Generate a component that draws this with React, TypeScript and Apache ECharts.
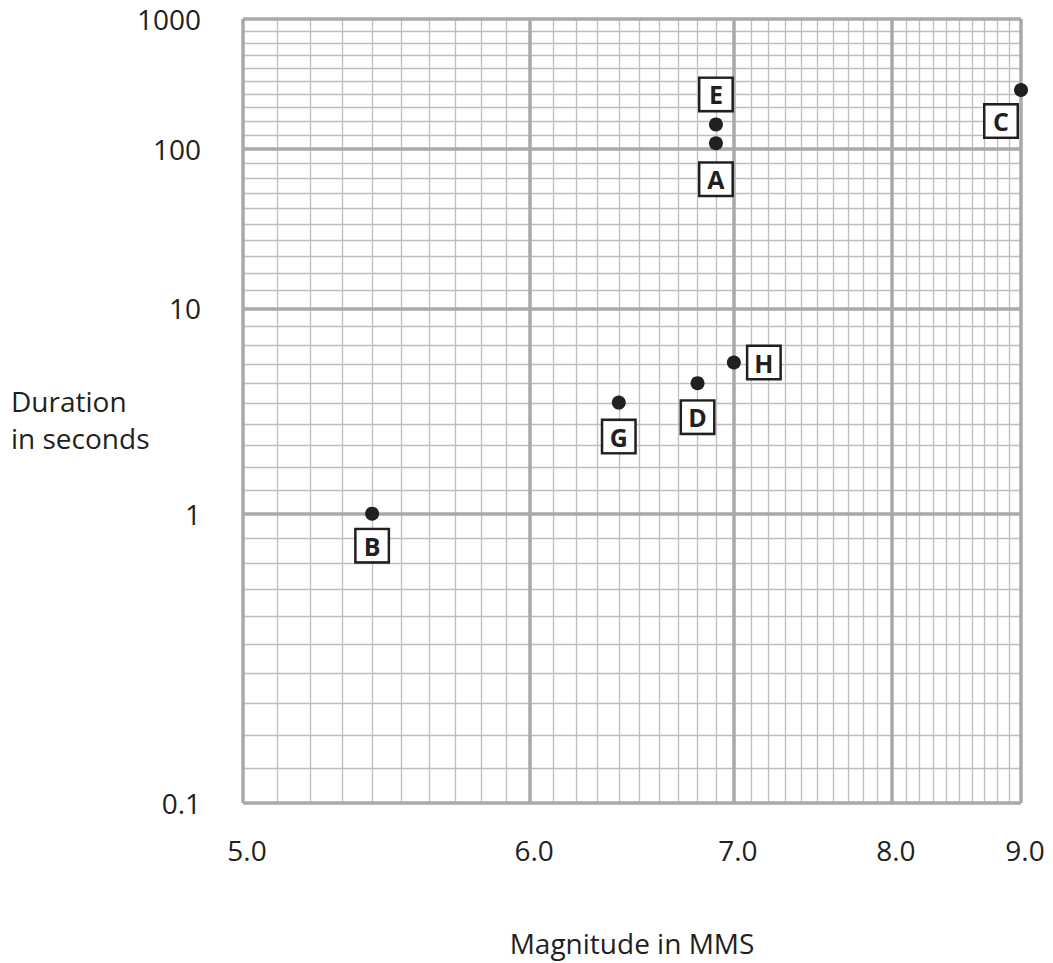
import React, { useEffect, useRef } from "react";
import * as echarts from "echarts";

// ---- data ----
const POINT_LABELS = ["A", "B", "C", "D", "E", "G", "H"];
const MAGNITUDE_MMS = [6.9, 5.4, 9.0, 6.8, 6.9, 6.4, 7.0];
const DURATION_S = [110, 1, 270, 4, 150, 3.2, 5.1];

const X_TICK_LABELS = ["5.0", "6.0", "7.0", "8.0", "9.0"];
const Y_TICK_LABELS = ["0.1", "1", "10", "100", "1000"];

// log-paper cycle (2 … 6) used by both axes; majors carry the labels above
const PAPER_MAJOR = [2, 3, 4, 5, 6];
const PAPER_MINOR: number[] = [];
for (let i = 2; i < 6; i++) for (let j = 1; j <= 9; j++) PAPER_MINOR.push(i + j / 10);

// physical value -> position on the log paper
const toPaperX = (m: number) => m - 3; // 5.0 -> 2 … 9.0 -> 6
const toPaperY = (d: number) => Math.log10(d) + 3; // 0.1 -> 2 … 1000 -> 6

// label box placement relative to its point (style, not data)
const LABEL_OFFSET: Record<string, [number, number]> = {
  A: [0, 36],
  B: [0, 32],
  C: [-20, 31],
  D: [0, 34],
  E: [0, -30],
  G: [0, 34],
  H: [30, 0],
};

const FONT = "'Open Sans', 'Noto Sans', sans-serif";
const INK = "#231f20";
const MAJOR = { color: "#a7a9ac", width: 3.5 };
const MINOR = { color: "#bcbec0", width: 1.3 };

const pick = (labels: string[]) => (v: number) => {
  const idx = PAPER_MAJOR.findIndex((p) => Math.abs(p - v) < 1e-6);
  return idx >= 0 ? labels[idx] : "";
};

export default function App() {
  const ref = useRef<HTMLDivElement>(null);

  useEffect(() => {
    if (!ref.current) return;
    const chart = echarts.init(ref.current, undefined, { renderer: "svg" });

    const hidden = {
      axisLine: { show: false },
      axisLabel: { show: false },
    };

    const data = POINT_LABELS.map((name, i) => ({
      name,
      value: [toPaperX(MAGNITUDE_MMS[i]), toPaperY(DURATION_S[i])],
    }));

    chart.setOption({
      animation: false,
      backgroundColor: "#ffffff",
      grid: {
        left: 243,
        right: 32,
        top: 19,
        bottom: 160,
        containLabel: false,
        outerBoundsMode: "none",
      },
      xAxis: [
        {
          type: "log",
          logBase: 10,
          min: 2,
          max: 6,
          position: "bottom",
          z: 1,
          axisLine: { show: false },
          axisTick: { show: false, customValues: PAPER_MAJOR },
          axisLabel: {
            show: true,
            customValues: PAPER_MAJOR,
            formatter: pick(X_TICK_LABELS),
            margin: 47,
            verticalAlign: "middle",
            color: INK,
            fontFamily: FONT,
            fontSize: 28,
            padding: [0, 0, 0, 8],
          },
          splitLine: { show: true, lineStyle: MAJOR },
          minorTick: { show: false },
          minorSplitLine: { show: false },
          name: "Magnitude in MMS",
          nameLocation: "middle",
          nameGap: 140,
          nameMoveOverlap: false,
          nameTextStyle: {
            color: INK,
            fontFamily: FONT,
            fontSize: 28,
            verticalAlign: "middle",
          },
        },
        {
          type: "log",
          logBase: 10,
          min: 2,
          max: 6,
          position: "top",
          z: 0,
          ...hidden,
          axisTick: { show: false, customValues: PAPER_MINOR },
          splitLine: { show: true, lineStyle: MINOR },
          minorTick: { show: false },
          minorSplitLine: { show: false },
        },
      ],
      yAxis: [
        {
          type: "log",
          logBase: 10,
          min: 2,
          max: 6,
          position: "left",
          z: 1,
          axisLine: { show: false },
          axisTick: { show: false, customValues: PAPER_MAJOR },
          axisLabel: {
            show: true,
            customValues: PAPER_MAJOR,
            formatter: pick(Y_TICK_LABELS),
            margin: 42,
            color: INK,
            fontFamily: FONT,
            fontSize: 28,
            verticalAlign: "middle",
            padding: [16, 0, 0, 0],
          },
          splitLine: { show: true, lineStyle: MAJOR },
          minorTick: { show: false },
          minorSplitLine: { show: false },
          name: "{gap| }\n{t|Duration}\n{t|in seconds}",
          nameLocation: "middle",
          nameRotate: 0,
          nameGap: 232,
          nameMoveOverlap: false,
          nameTextStyle: {
            color: INK,
            fontFamily: FONT,
            fontSize: 28,
            align: "left",
            verticalAlign: "middle",
            rich: {
              gap: { fontSize: 10, lineHeight: 16, fontFamily: FONT },
              t: { color: INK, fontFamily: FONT, fontSize: 28, lineHeight: 37 },
            },
          },
        },
        {
          type: "log",
          logBase: 10,
          min: 2,
          max: 6,
          position: "right",
          z: 0,
          ...hidden,
          axisTick: { show: false, customValues: PAPER_MINOR },
          splitLine: { show: true, lineStyle: MINOR },
          minorTick: { show: false },
          minorSplitLine: { show: false },
        },
      ],
      series: [
        {
          type: "scatter",
          xAxisIndex: 0,
          yAxisIndex: 0,
          z: 5,
          symbol: "circle",
          symbolSize: 14,
          itemStyle: { color: INK, opacity: 1 },
          label: {
            show: true,
            position: "inside",
            formatter: "{b}",
            color: INK,
            opacity: 1,
            fontFamily: FONT,
            fontWeight: "bold",
            fontSize: 25,
            backgroundColor: "#ffffff",
            borderColor: INK,
            borderWidth: 2.5,
            width: 31,
            height: 31,
            lineHeight: 31,
            align: "center",
            verticalAlign: "middle",
            padding: 0,
          },
          labelLayout: (params: any) => {
            const o = LABEL_OFFSET[POINT_LABELS[params.dataIndex]] || [0, 0];
            return { dx: o[0], dy: o[1], hideOverlap: false, moveOverlap: false };
          },
          emphasis: { disabled: true },
          data,
        },
      ],
    });

    return () => chart.dispose();
  }, []);

  return (
    <div
      ref={ref}
      style={{ position: "fixed", left: 0, top: 0, width: 1053, height: 963 }}
    />
  );
}
